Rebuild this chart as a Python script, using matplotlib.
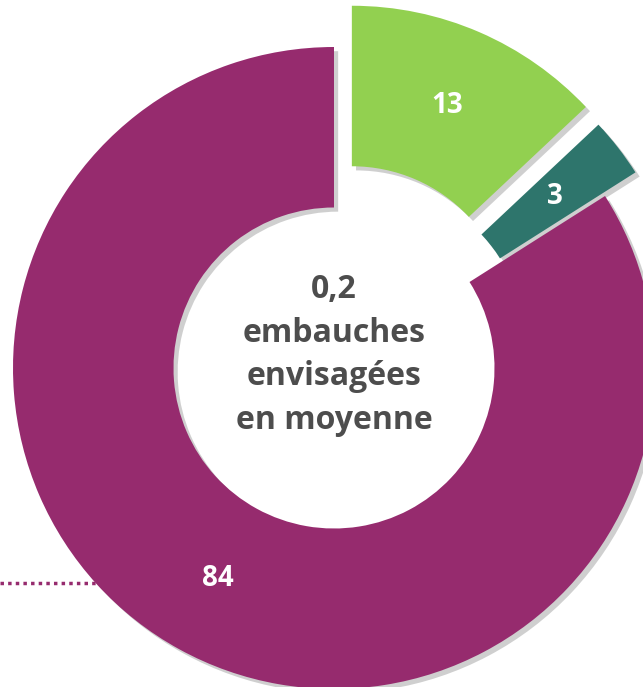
import matplotlib
matplotlib.use("Agg")
import matplotlib.pyplot as plt
import matplotlib.patheffects as pe

categories = ["Oui, certainement", "Oui, probablement", "Non"]
values = [13, 3, 84]
colors = ["#92D050", "#2E756C", "#962B6E"]
explode_frac = [0.14, 0.12, 0.0]
center_text = "0,2\nembauches\nenvisagées\nen moyenne"

plt.rcParams['font.family'] = ['Open Sans', 'DejaVu Sans']

fig = plt.figure(figsize=(6.43, 6.87), dpi=100)
ax = fig.add_axes([0, 0, 1, 1])
R = 321

wedges, texts, autotexts = ax.pie(
    values, colors=colors, explode=[e * R for e in explode_frac], radius=R,
    startangle=90, counterclock=False,
    wedgeprops=dict(width=R * 0.5, linewidth=0),
    autopct=lambda p: f"{round(p)}", pctdistance=0.75,
    textprops=dict(color="white", fontsize=20, fontweight="bold"),
)
for w in wedges:
    w.set_path_effects([pe.SimplePatchShadow(offset=(3, -3), alpha=0.35, shadow_rgbFace="#777777"), pe.Normal()])

ax.text(0, 13, center_text, ha="center", va="center", fontsize=23,
        fontweight="bold", color="#4D4D4D", linespacing=1.42)

ax.plot([-334, -234], [-215, -215], linestyle=(0, (1, 1.2)), color=colors[2], linewidth=2.5, zorder=0)

ax.set_xlim(-334, 309)
ax.set_ylim(-319, 368)
ax.set_aspect("equal")
ax.axis("off")
fig.savefig("out.png", dpi=100)
